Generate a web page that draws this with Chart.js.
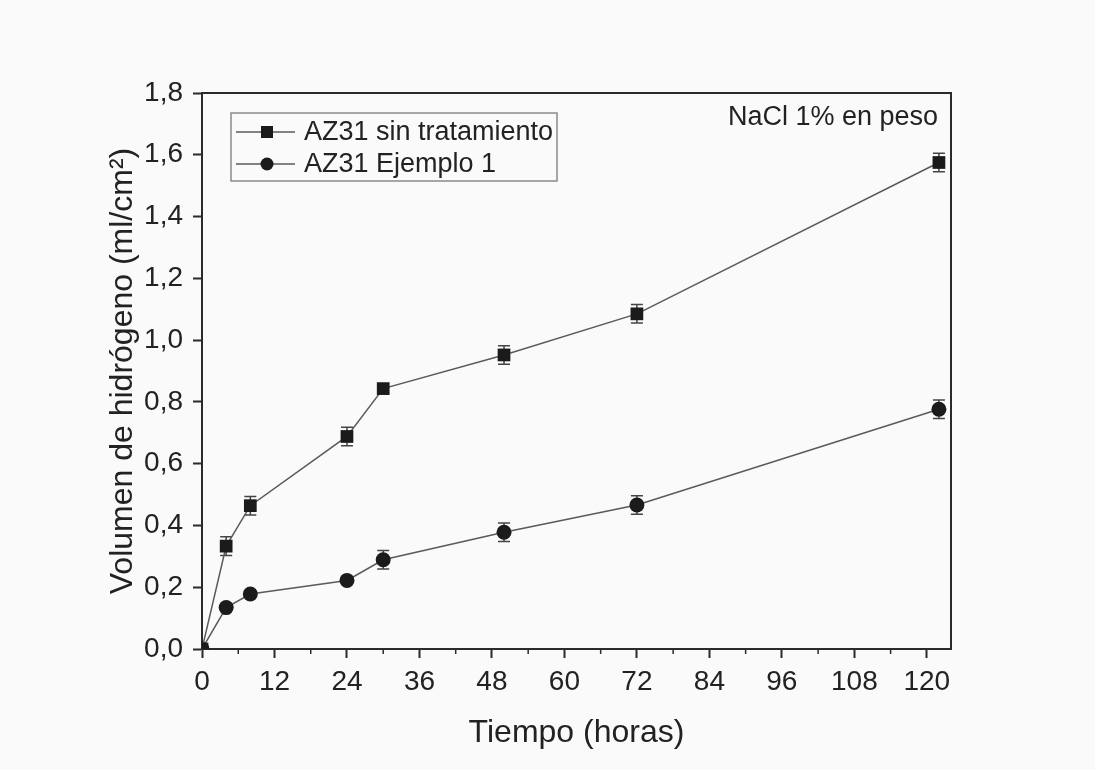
<!DOCTYPE html>
<html>
<head>
<meta charset="utf-8">
<script src="https://cdn.jsdelivr.net/npm/chart.js@4"></script>
<style>
  html, body { margin: 0; padding: 0; background: #fafafa; }
  #wrap { width: 1095px; height: 770px; }
</style>
</head>
<body>
<div id="wrap"><canvas id="grafico" width="1095" height="770"></canvas></div>
<script>
// datos
const horas = [0, 4, 8, 24, 30, 50, 72, 122];
const sinTratamiento = [0, 0.333, 0.464, 0.688, 0.843, 0.952, 1.085, 1.575];
const ejemplo1 = [0, 0.134, 0.178, 0.222, 0.289, 0.378, 0.466, 0.776];
const errSinTratamiento = [0, 0.03, 0.03, 0.03, 0, 0.03, 0.03, 0.03];
const errEjemplo1 = [0, 0, 0, 0, 0.03, 0.03, 0.03, 0.03];
const ticksX = [0, 12, 24, 36, 48, 60, 72, 84, 96, 108, 120];
const ticksXMenores = [6, 18, 30, 42, 54, 66, 78, 90, 102, 114];
const ticksY = [0, 0.2, 0.4, 0.6, 0.8, 1.0, 1.2, 1.4, 1.6, 1.8];
const series = ['AZ31 sin tratamiento', 'AZ31 Ejemplo 1'];
const nota = 'NaCl 1% en peso';

const FUENTE = "'Liberation Sans', Arial, sans-serif";
const negro = '#1b1b1b';
const gris = '#5a5a5a';

function puntos(ys) {
    return horas.map((h, i) => ({ x: h, y: ys[i] }));
}

// barras de error, marco, ticks menores, leyenda y nota
const extras = {
    id: 'extras',
    beforeDatasetsDraw(chart) {
        const ctx = chart.ctx;
        const x = chart.scales.x, y = chart.scales.y;
        const errores = [errSinTratamiento, errEjemplo1];
        ctx.save();
        ctx.strokeStyle = '#444';
        ctx.lineWidth = 1.5;
        chart.data.datasets.forEach((ds, k) => {
            ds.data.forEach((p, i) => {
                const e = errores[k][i];
                if (!e) return;
                const px = x.getPixelForValue(p.x);
                const y1 = y.getPixelForValue(p.y + e);
                const y2 = y.getPixelForValue(p.y - e);
                ctx.beginPath();
                ctx.moveTo(px, y1); ctx.lineTo(px, y2);
                ctx.moveTo(px - 6, y1); ctx.lineTo(px + 6, y1);
                ctx.moveTo(px - 6, y2); ctx.lineTo(px + 6, y2);
                ctx.stroke();
            });
        });
        ctx.restore();
    },
    afterDraw(chart) {
        const ctx = chart.ctx;
        const a = chart.chartArea;
        const x = chart.scales.x;
        ctx.save();
        // marco superior y derecho
        ctx.strokeStyle = '#2a2a2a';
        ctx.lineWidth = 2;
        ctx.beginPath();
        ctx.moveTo(a.left, a.top); ctx.lineTo(a.right, a.top); ctx.lineTo(a.right, a.bottom);
        ctx.stroke();
        // ticks menores del eje x
        ctx.lineWidth = 1.5;
        ticksXMenores.forEach(v => {
            const px = x.getPixelForValue(v);
            ctx.beginPath();
            ctx.moveTo(px, a.bottom); ctx.lineTo(px, a.bottom + 5);
            ctx.stroke();
        });

        // leyenda
        const lx = a.left + 29, ly = a.top + 20, lw = 326, lh = 68;
        ctx.strokeStyle = '#8a8a8a';
        ctx.lineWidth = 1.5;
        ctx.strokeRect(lx, ly, lw, lh);
        ctx.font = '27px ' + FUENTE;
        ctx.textBaseline = 'middle';
        chart.data.datasets.forEach((ds, i) => {
            const cy = ly + 19 + i * 32;
            ctx.strokeStyle = gris;
            ctx.lineWidth = 1.5;
            ctx.beginPath();
            ctx.moveTo(lx + 5, cy); ctx.lineTo(lx + 64, cy);
            ctx.stroke();
            ctx.fillStyle = negro;
            if (ds.pointStyle === 'rect') {
                ctx.fillRect(lx + 36 - 6, cy - 6, 12, 12);
            } else {
                ctx.beginPath();
                ctx.arc(lx + 36, cy, 6.5, 0, Math.PI * 2);
                ctx.fill();
            }
            ctx.fillStyle = '#222';
            ctx.textAlign = 'left';
            ctx.fillText(ds.label, lx + 73, cy + 1);
        });

        // nota
        ctx.textAlign = 'right';
        ctx.fillStyle = '#222';
        ctx.font = '27px ' + FUENTE;
        ctx.fillText(nota, a.right - 13, a.top + 25);
        ctx.restore();
    }
};

const ctx = document.getElementById('grafico').getContext('2d');
const grafico = new Chart(ctx, {
    type: 'line',
    data: {
        datasets: [{
            label: series[0],
            data: puntos(sinTratamiento),
            pointStyle: 'rect',
            pointRadius: 9,
            borderColor: gris,
            borderWidth: 1.5,
            pointBackgroundColor: negro,
            pointBorderColor: negro,
            pointBorderWidth: 0
        }, {
            label: series[1],
            data: puntos(ejemplo1),
            pointStyle: 'circle',
            pointRadius: 7.5,
            borderColor: gris,
            borderWidth: 1.5,
            pointBackgroundColor: negro,
            pointBorderColor: negro,
            pointBorderWidth: 0
        }]
    },
    options: {
        responsive: false,
        animation: false,
        layout: { padding: { top: 93, right: 144, left: 0, bottom: 0 } },
        plugins: {
            legend: { display: false },
            tooltip: { enabled: false }
        },
        scales: {
            x: {
                type: 'linear',
                min: 0,
                max: 124,
                afterBuildTicks: s => { s.ticks = ticksX.map(v => ({ value: v })); },
                afterFit: s => { s.height = 121; },
                grid: { drawOnChartArea: false, tickLength: 9, tickWidth: 2, tickColor: '#2a2a2a' },
                border: { color: '#2a2a2a', width: 2 },
                ticks: {
                    color: '#222',
                    padding: 7,
                    maxRotation: 0,
                    font: { size: 28, family: FUENTE }
                },
                title: {
                    display: true,
                    text: 'Tiempo (horas)',
                    color: '#222',
                    font: { size: 32, family: FUENTE },
                    padding: { top: 0, bottom: 18 }
                }
            },
            y: {
                min: 0,
                max: 1.8,
                afterBuildTicks: s => { s.ticks = ticksY.map(v => ({ value: v })); },
                afterFit: s => { s.width = 202; },
                grid: { drawOnChartArea: false, tickLength: 9, tickWidth: 2, tickColor: '#2a2a2a' },
                border: { color: '#2a2a2a', width: 2 },
                ticks: {
                    color: '#222',
                    padding: 10,
                    font: { size: 28, family: FUENTE },
                    callback: v => v.toFixed(1).replace('.', ',')
                },
                title: {
                    display: true,
                    text: 'Volumen de hidrógeno (ml/cm²)',
                    color: '#222',
                    font: { size: 32, family: FUENTE },
                    padding: { top: 104, bottom: 0 }
                }
            }
        }
    },
    plugins: [extras]
});
</script>
</body>
</html>
